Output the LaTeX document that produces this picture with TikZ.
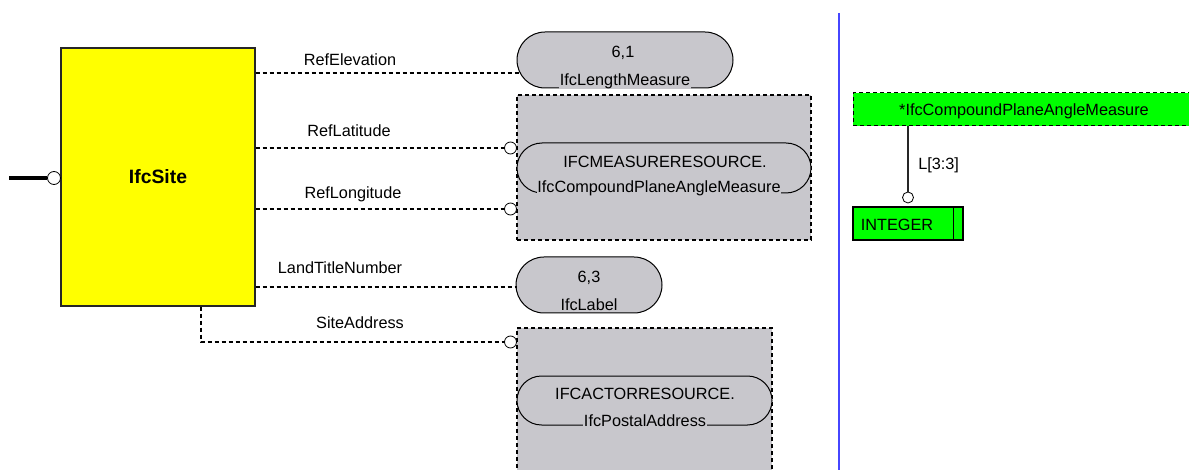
\documentclass[tikz,border=0pt]{standalone}
\usepackage{fontspec}
\setmainfont{Liberation Sans}
\definecolor{boxgray}{RGB}{200,199,204}
\definecolor{siteyellow}{RGB}{255,255,0}
\definecolor{typegreen}{RGB}{0,255,0}
\definecolor{divblue}{RGB}{70,70,255}
\begin{document}
\begin{tikzpicture}[x=0.75pt,y=-0.75pt,
  font=\fontsize{12.2}{14}\selectfont,
  entity/.style={draw=black!85, fill=siteyellow, line width=0.9pt, inner sep=0pt,
    minimum width=145.5pt, minimum height=193.5pt},
  port/.style={circle, draw, fill=white, line width=0.6pt, inner sep=0pt, minimum size=9pt},
  conn/.style={line width=0.8pt, dash pattern=on 3pt off 2.25pt},
  pill/.style={draw, fill=boxgray, line width=0.75pt, inner sep=0pt},
  group/.style={draw, fill=boxgray, line width=0.8pt, dash pattern=on 3pt off 2.25pt, inner sep=0pt},
  txt/.style={inner sep=0pt},
  typename/.style={fill=boxgray, inner xsep=0.5pt, inner ysep=0.6pt},
  greenbox/.style={draw, fill=typegreen, line width=0.75pt, inner sep=0pt}]
\clip (0,0) rectangle (1189,470);
\fill[white] (0,0) rectangle (1189,470);

% --- entity and its incoming link
\node[entity] (site) at (158,177) {\bfseries\fontsize{14.5}{16}\selectfont IfcSite};
\node[port, minimum size=9.75pt] (inp) at (54,178) {};
\coordinate (stub) at (9,178);
\draw[line width=3.5pt] (stub) -- (inp.west);

% --- RefElevation
\node[pill, minimum width=162pt, minimum height=42pt, rounded corners=21pt] (len) at (625,60) {};
\node[txt] (lenA) at (623,53) {6,1};
\node[typename] (lenB) at (625,81) {IfcLengthMeasure};
\coordinate (lenIn) at (519.5,73);
\draw[conn] (site.east |- lenIn) -- (lenIn);
\node[txt] (lRefEl) at (350,60) {RefElevation};

% --- measure resource group
\node[group, minimum width=220.5pt, minimum height=108.75pt] (meas) at (664,167.5) {};
\node[pill, minimum width=220.5pt, minimum height=37.5pt, rounded corners=18.75pt] (angle) at (664,168) {};
\node[txt] (angA) at (665,162) {IFCMEASURERESOURCE.};
\node[typename] (angB) at (659,188) {IfcCompoundPlaneAngleMeasure};
\node[port] (lat) at (510.5,148) {};
\node[port] (lon) at (510.5,209) {};
\draw[conn] (site.east |- lat) -- (lat.west);
\draw[conn] (site.east |- lon) -- (lon.west);
\node[txt] (lRefLat) at (349,131) {RefLatitude};
\node[txt] (lRefLon) at (353,194) {RefLongitude};

% --- LandTitleNumber
\node[pill, minimum width=109.5pt, minimum height=42pt, rounded corners=21pt] (lab) at (589,285) {};
\node[txt] (labA) at (589,278) {6,3};
\node[typename] (labB) at (589,305) {IfcLabel};
\coordinate (labIn) at (517,287);
\draw[conn] (site.east |- labIn) -- (labIn);
\node[txt] (lLand) at (340,268) {LandTitleNumber};

% --- actor resource group
\node[group, minimum width=191.25pt, minimum height=114pt] (actor) at (644.5,404) {};
\node[pill, minimum width=191.25pt, minimum height=36.75pt, rounded corners=18.4pt] (post) at (644.5,400.5) {};
\node[txt] (postA) at (645,394) {IFCACTORRESOURCE.};
\node[typename] (postB) at (645,421) {IfcPostalAddress};
\node[port] (addr) at (510.5,342) {};
\coordinate (bend) at (201,342);
\draw[conn] (site.south -| bend) -- (bend) -- (addr.west);
\node[txt] (lAddr) at (360,323) {SiteAddress};

% --- divider
\coordinate (divTop) at (839,13);
\coordinate (divBot) at (839,470);
\draw[divblue, line width=1.5pt] (divTop) -- (divBot);

% --- defined type
\node[greenbox, dash pattern=on 3pt off 2.25pt, minimum width=256.5pt, minimum height=24.75pt] (cpam) at (1024,109.5) {};
\node[txt] (cpamT) at (1024,111) {*IfcCompoundPlaneAngleMeasure};
\node[port, minimum size=8.25pt] (intp) at (908,197.5) {};
\draw[line width=0.8pt, black!85] (cpam.south -| intp) -- (intp.north);
\node[txt, anchor=west] (lList) at (918,165) {L[3:3]};
\node[greenbox, line width=1pt, minimum width=82.5pt, minimum height=24.75pt] (int) at (908,223.5) {};
\draw[line width=1pt] ([xshift=-7.5pt]int.north east) -- ([xshift=-7.5pt]int.south east);
\node[txt] (intT) at (897,225) {INTEGER};
\end{tikzpicture}
\end{document}
